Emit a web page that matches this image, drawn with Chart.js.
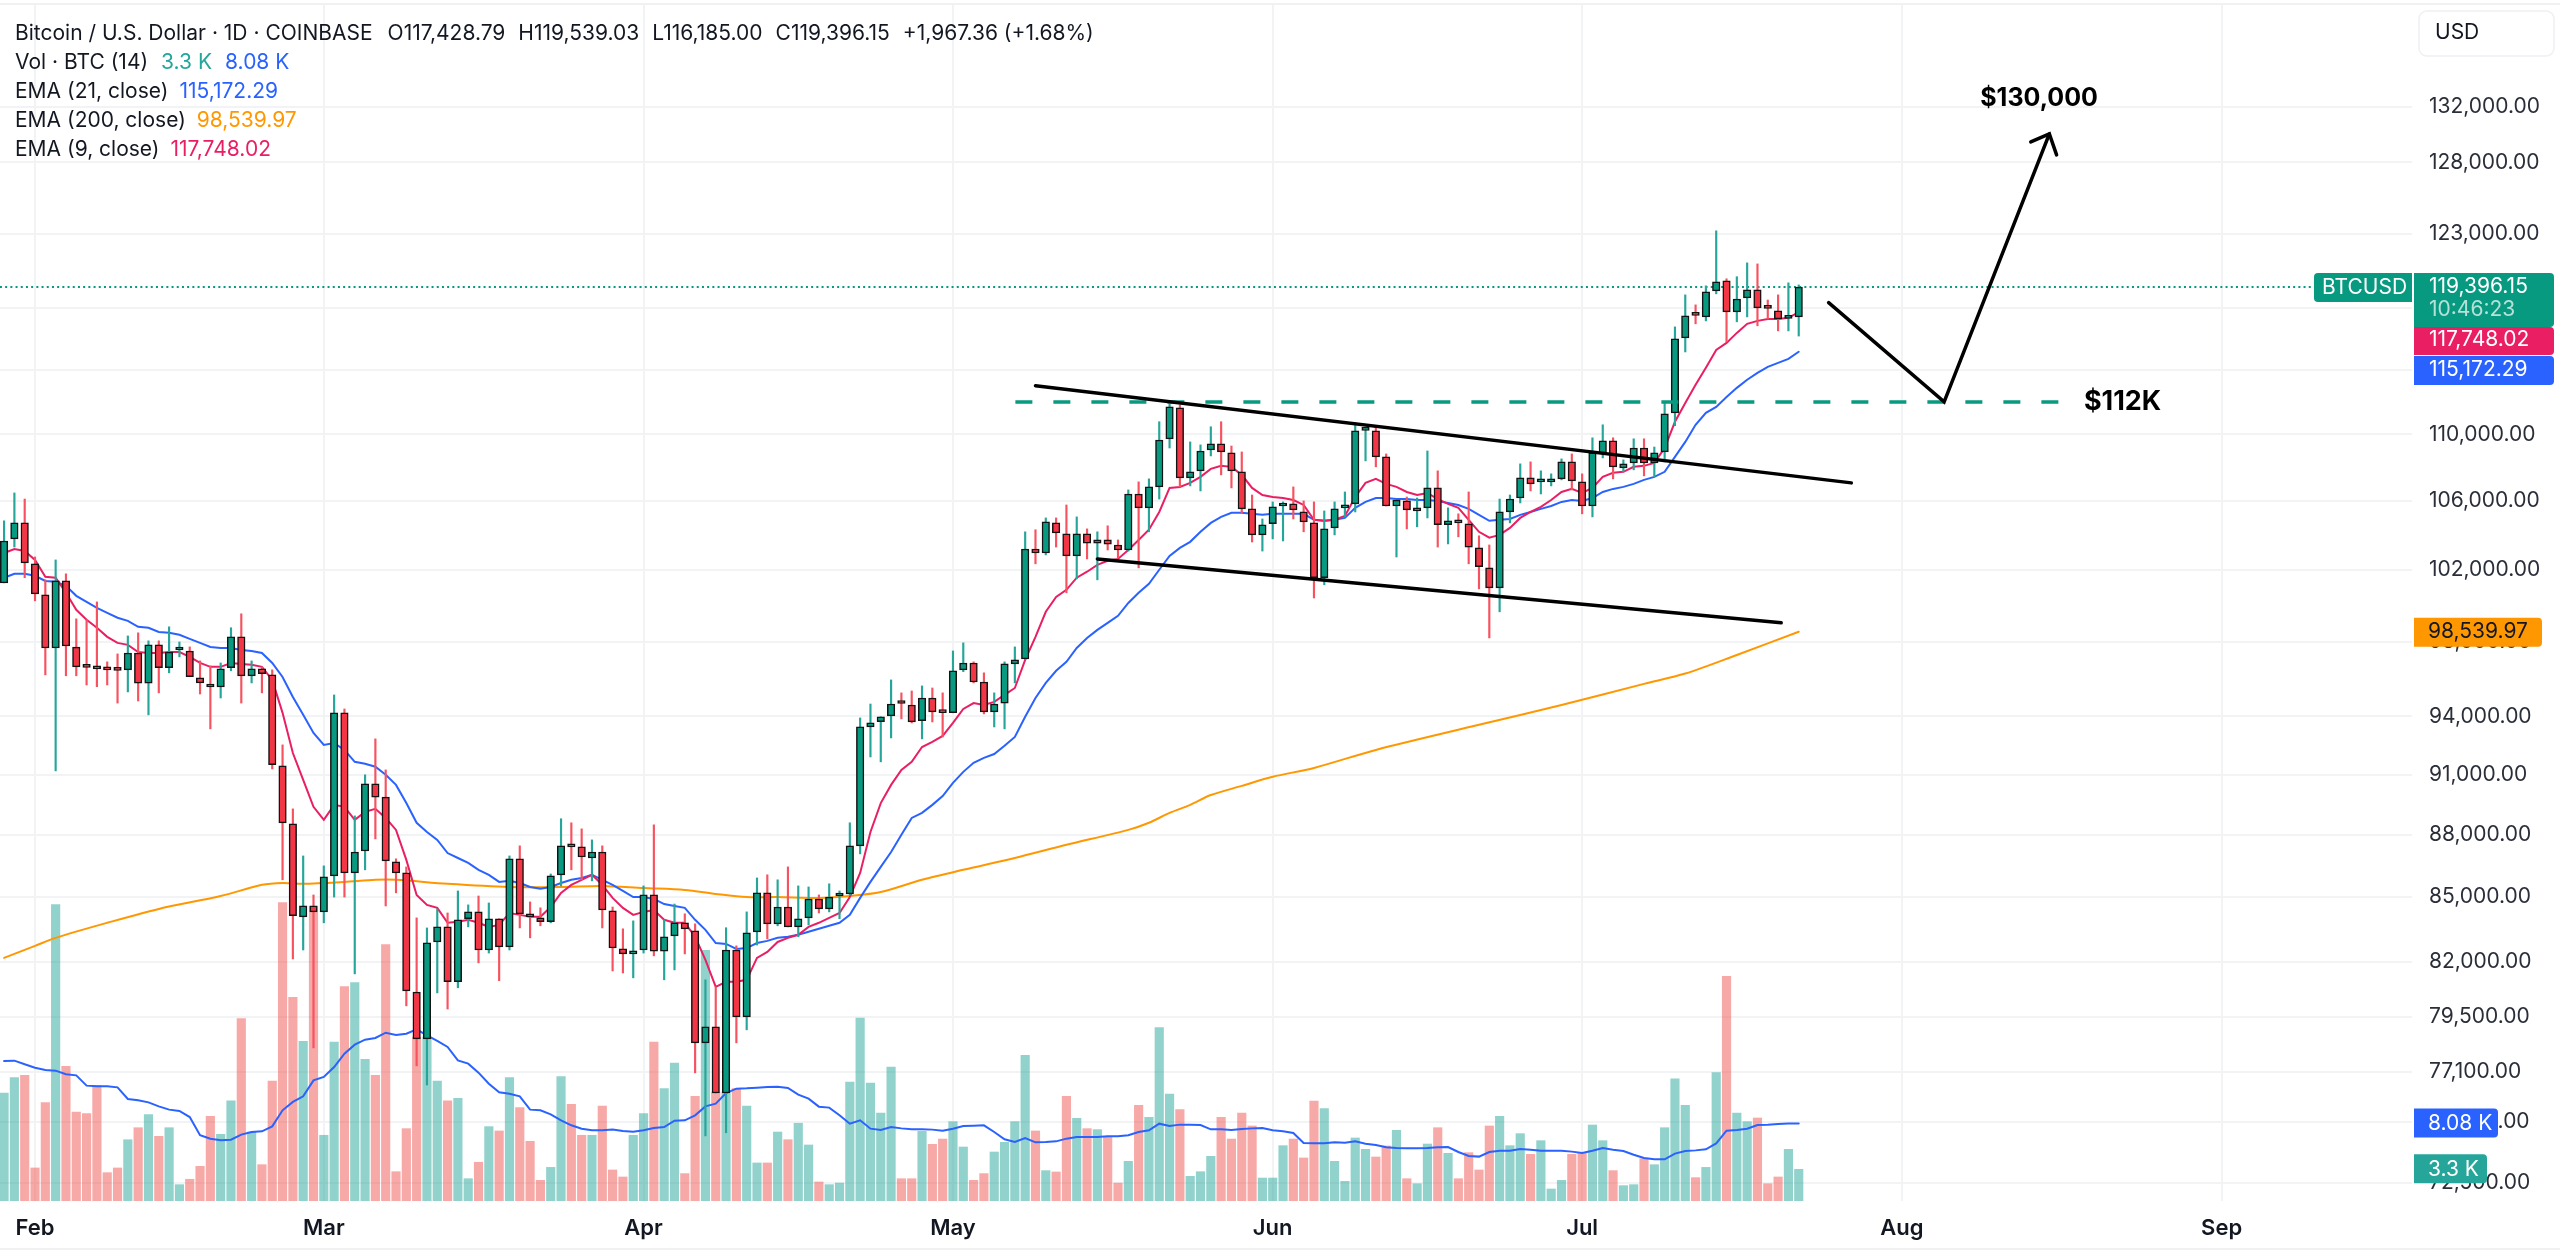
<!DOCTYPE html>
<html>
<head>
<meta charset="utf-8">
<title>BTCUSD</title>
<script src="https://cdn.jsdelivr.net/npm/chart.js@4/dist/chart.umd.min.js"></script>
<style>
  html, body { margin: 0; padding: 0; background: #fff; }
  canvas { display: block; }
</style>
</head>
<body>
<canvas id="btcChart" width="2560" height="1250"></canvas>
<script>
// day number 0 is 1 Feb, first candle is 29 Jan
const firstDay = -3;
const monthTicks = [0, 28, 59, 89, 120, 150, 181, 212];
const monthNames = ['Feb', 'Mar', 'Apr', 'May', 'Jun', 'Jul', 'Aug', 'Sep'];
const priceTicks = [132000, 128000, 123000, 118000, 114000, 110000, 106000, 102000, 98000, 94000, 91000, 88000, 85000, 82000, 79500, 77100, 75000, 72500];

const opens = [101260,103770,104700,102340,100580,97650,101370,97700,96630,96580,96520,96470,96470,97380,95760,97820,96580,97540,97490,96040,95710,95550,96580,98260,96150,96520,96200,91450,88540,84070,84580,84300,86010,94190,86150,87210,90530,89870,86680,86150,80620,78540,82900,83600,81090,83980,84300,82530,83980,82670,86830,84160,84020,83840,86060,87460,87410,86870,87160,84350,82580,82350,82530,85100,82480,83180,83790,83410,78370,79070,76210,82530,79510,83370,85200,83740,84530,83600,84020,84910,84440,85050,85150,87460,93450,93720,94030,94700,94600,93770,94970,94240,94190,96470,96840,95820,94240,94700,96790,97060,103190,102960,104700,104060,102790,104060,103530,103710,103420,103130,106400,105580,106820,109720,111630,107360,107780,109040,109410,108860,107720,105520,104000,104650,105690,105810,105340,104700,101550,104410,105580,105810,110240,110210,108620,105690,105990,105400,105580,106760,104590,104820,104650,103250,102110,100980,105340,106160,107360,107120,107120,107300,108320,107120,105690,108860,109590,107960,108260,109160,108260,108920,111320,116070,117570,117430,119150,119810,117760,118680,119210,118020,117830,117330,117428.79];
const closes = [103650,104700,102390,100640,97650,101370,97760,96630,96600,96520,96470,96440,97380,95760,97820,96580,97430,97600,96100,95770,95550,96520,98260,96150,96520,96260,91500,88590,84120,84580,84300,85960,94190,86150,87160,90530,89870,86730,86150,80670,78540,82860,83600,81090,83930,84300,82530,83980,82670,86830,84210,84070,83840,86010,87460,87410,86920,87160,84390,82620,82350,82480,85100,82480,83140,83790,83510,78370,79070,76210,82530,79510,83320,85200,83740,84530,83600,83980,84910,84440,85000,85100,87460,93450,93660,93980,94650,94680,93710,94970,94240,94200,96420,96840,95820,94240,94650,96790,97010,103190,102960,104760,104120,102790,104060,103530,103710,103470,103130,106400,105580,106820,109650,111690,107360,107720,108980,109410,108920,107780,105520,104000,104590,105640,105810,105460,104760,101550,104350,105520,105750,110210,110270,108620,105690,106040,105460,105520,106760,104590,104820,104700,103300,102170,100980,105340,106100,107360,107000,107180,107300,108320,107180,105690,108860,109590,108020,108200,109160,108260,108860,111260,116000,117500,117530,119080,119750,117760,118610,119210,118020,117990,117300,117370,119396.15];
const highs = [104820,106460,106100,102730,101430,102560,101770,99250,99200,100190,96900,97330,98310,98480,98040,98040,98810,97980,97710,96950,96680,96840,98760,99530,96950,96630,96470,92520,89280,86970,85100,86490,95130,94390,88930,90990,92830,91240,86830,86440,84020,83550,84440,84250,85290,84630,85050,84720,83980,86970,87460,84770,84490,86100,88790,88590,88290,87750,87460,84530,83510,83880,85530,88490,83930,84670,84210,83740,81170,80850,83560,82720,84300,85910,86060,85820,86440,85530,85480,85100,85630,85290,88590,93920,94650,93980,95930,95240,95340,95610,95500,95240,97490,97930,96900,96310,95240,96900,97710,104180,104300,104990,104990,105750,105050,104350,104180,104530,103710,106640,107120,107300,110770,111870,111810,109530,109350,110460,110770,109280,108920,106340,104930,105930,105930,106820,105990,105930,105400,105930,106520,110700,110390,110390,108800,106040,106220,106160,108980,107780,105580,105230,106520,103950,103420,106100,106340,108200,108320,107780,107600,108500,108800,107600,109780,110580,109780,108440,109720,109720,109220,112000,116780,118880,118220,119480,123200,119950,120090,121020,120950,118540,118880,119680,119539.03];
const lows = [101260,103300,101550,100250,96200,91190,96150,96150,95660,95570,95660,94700,95290,94810,94080,95240,96310,97170,96100,95180,93350,94970,96420,94700,95770,95240,91290,85820,82120,82530,78150,83790,85000,85000,81440,86300,87800,84580,85200,80000,77370,76550,80580,79860,80810,83600,81940,82390,81130,82530,83550,83090,83650,83790,85530,86300,85820,85770,83550,81570,81480,81260,82390,82260,81170,81620,82350,77070,74410,76210,74540,78370,78940,82760,83040,83650,83600,83140,83690,84250,84300,83980,85100,87070,91900,91650,92880,93870,93660,92830,93710,92930,94190,96370,95770,94130,93450,93350,95770,97010,102340,102850,103300,100700,101490,102620,101430,103130,102680,103070,102110,104180,106100,109160,106820,106880,106580,108680,107540,106760,105290,103590,103070,103770,103650,104930,104180,100410,101150,104000,105050,105340,108380,108020,105690,102730,104350,104470,104990,103300,103480,103890,102340,100920,98200,99640,104700,105870,106580,106400,106880,107240,106640,105230,105050,108560,107300,107720,107840,107480,107420,108320,110520,115160,116980,117170,118950,115810,117110,117430,116850,117300,116520,116520,116185];

// volume in thousands of BTC
const volumes = [11.24,12.84,13.08,3.44,10.24,30.85,14.02,9.26,9.09,12.01,2.95,3.44,6.38,7.63,8.99,6.73,7.63,1.70,2.26,3.61,8.81,6.94,10.44,18.98,7.18,3.78,12.49,31.06,21.20,16.62,30.67,6.84,16.55,22.31,22.73,14.75,13.08,26.68,3.05,7.53,17.07,17.07,12.49,10.44,10.69,2.32,4.03,7.74,7.29,12.84,9.72,6.21,2.15,3.50,12.94,10.06,6.84,6.84,9.89,3.23,2.50,6.84,9.09,16.55,11.69,14.37,2.85,10.90,26.09,11.35,11.35,11.69,9.89,3.96,3.96,7.18,6.38,8.09,5.83,1.98,1.70,1.87,12.39,19.05,12.28,9.16,13.95,2.32,2.32,7.25,5.90,6.45,8.26,5.62,2.15,2.85,5.10,6.11,8.26,15.16,7.29,3.16,3.02,10.90,8.61,7.53,7.43,6.73,1.87,4.13,9.96,8.71,18.04,11.14,9.51,2.57,3.05,4.65,8.71,6.45,9.16,7.81,2.39,2.39,5.76,6.45,4.48,10.41,9.61,4.13,2.05,6.56,5.38,4.58,5.73,7.36,2.32,1.80,5.93,7.63,4.96,2.32,5.03,3.23,7.81,8.81,5.76,7.01,4.86,6.28,1.25,2.15,4.86,5.00,7.91,6.28,3.16,1.60,1.70,4.41,3.78,7.63,12.73,9.96,2.43,3.50,13.36,23.39,9.16,8.26,8.64,1.80,2.50,5.38,3.30];
const volumeAverage = [14.57,14.61,14.23,13.88,13.64,13.57,13.19,13.08,12.01,11.94,11.94,11.83,10.62,10.48,10.27,9.85,9.51,9.37,8.74,6.84,6.49,6.32,6.38,6.91,7.18,7.25,7.77,9.44,10.31,10.90,12.56,12.91,13.95,15.34,16.27,16.79,16.97,17.52,17.28,17.42,17.87,17.25,16.66,16.03,14.64,14.30,13.36,12.21,11.31,11.17,10.90,9.51,9.44,9.02,8.40,7.88,7.53,7.36,7.36,7.43,7.29,7.22,7.36,7.60,7.70,8.36,8.40,8.92,9.85,10.13,11.24,11.69,11.73,11.80,11.87,11.90,11.76,11.07,10.65,9.82,9.72,8.92,8.05,8.40,7.53,7.39,7.70,7.56,7.46,7.46,7.43,7.32,7.53,7.81,7.84,7.88,7.18,6.42,6.14,6.56,6.11,6.14,6.21,6.49,6.66,6.66,6.66,6.73,6.73,6.84,7.18,7.36,8.05,7.81,7.95,7.95,7.91,7.46,7.46,7.39,7.50,7.56,7.60,7.36,7.25,7.08,6.04,6.00,6.00,6.11,6.07,6.21,5.97,5.83,5.59,5.52,5.48,5.48,5.52,5.59,5.62,5.10,4.68,4.62,5.10,5.24,5.24,5.41,5.34,5.24,5.24,5.24,5.14,5.00,5.24,5.52,5.34,5.21,4.82,4.48,4.34,4.34,4.93,5.21,5.27,5.38,6.00,7.32,7.39,7.53,7.91,7.95,8.02,8.08,8.08];

const ema9 = [102960,103190,103070,102560,101600,101550,100700,99750,99200,98760,98260,97930,97820,97430,97380,97380,97430,97430,97170,96840,96630,96630,96840,96790,96740,96630,95930,94185,92100,90730,89380,88740,89480,89380,88740,89130,89280,88830,88240,86780,85100,84630,84490,83790,83840,83930,83790,83600,83690,84250,84160,84070,84070,84530,85200,85580,85820,86060,85580,84960,84490,84160,84300,84390,83930,83790,83790,83140,82080,80850,81080,81080,81170,82170,82440,82900,83090,83230,83600,83790,84020,84250,85000,86150,88140,89570,90480,91240,91650,92410,92670,92980,93660,94390,94700,94600,94760,95130,95500,97010,98260,99640,100470,100870,101550,101890,102280,102510,102620,103130,103710,104300,105340,106760,106820,107060,107420,107900,108080,108020,107540,106760,106340,106220,106160,106040,105750,104880,104820,104880,105110,106220,107060,107300,107000,106820,106520,106340,106460,106100,105810,105580,104880,104180,103840,104000,104410,104990,105340,105640,106040,106520,106700,106460,106760,107420,107660,107720,108020,108080,108260,109160,110765,111930,113070,114150,115290,115740,116390,116980,117170,117300,117300,117370,117748.02];
const ema21 = [101545,101770,101770,101660,101370,101320,101090,100530,100190,99860,99580,99310,99140,98810,98760,98530,98480,98370,98150,97930,97710,97650,97650,97540,97490,97380,96840,96090,95020,94080,93140,92520,92620,92260,91650,91550,91400,90990,90480,89570,88590,88140,87750,87110,86870,86630,86300,86060,85720,85770,85670,85480,85390,85480,85670,85820,85910,86060,85820,85580,85290,85000,85000,84910,84670,84580,84490,83930,83460,82850,82810,82580,82620,82850,82950,83090,83140,83230,83370,83510,83650,83790,84160,84960,85720,86440,87160,88000,88830,89080,89480,89920,90580,91140,91600,91850,92050,92470,92930,93980,94970,95770,96420,96900,97650,98200,98640,99030,99420,100130,100700,101210,102000,102790,103250,103600,104180,104700,105050,105290,105290,105230,105170,105230,105230,105230,105230,104880,104820,104880,104990,105580,105930,106160,106160,106100,106100,106040,106040,105990,105870,105750,105520,105170,104820,104880,104930,105170,105340,105520,105690,105930,106040,105990,106160,106520,106700,106820,107000,107240,107420,107720,108620,109530,110580,111320,111690,112310,112880,113390,113830,114210,114460,114720,115172.29];
const ema200Days = [-3,0,2,7,12,18,22,24,26,30,33,35,40,46,51,55,59,63,66,69,72,76,79,82,86,90,95,100,106,108,110,112,114,117,120,124,130,140,148,156,160,165,171];
const ema200Values = [82170,82720,83090,83790,84440,85050,85580,85670,85630,85720,85820,85820,85630,85480,85480,85530,85430,85340,85150,85000,85000,84960,85050,85240,85820,86300,86870,87510,88240,88590,89080,89480,89970,90430,90890,91340,92260,93560,94600,95720,96270,97270,98539.97];

// hand drawn lines on the chart, as day number and price
const upperTrendDays = [97, 176.1];
const upperTrendPrices = [113010, 107060];
const lowerTrendDays = [103, 169.3];
const lowerTrendPrices = [102620, 99030];
const resistanceDays = [95.05, 196.5];
const resistancePrices = [112000, 112000];
const arrowDays = [173.9, 185.1, 195.3];
const arrowPrices = [118370, 112000, 130030];
const arrowHeadDays = [193.5, 195.3, 196];
const arrowHeadPrices = [129450, 130030, 128520];
const lastPriceDays = [-3.4, 221];
const lastPrice = 119396.15;

const xMin = -3.395, xMax = 230.46;
const priceMin = 71760, priceMax = 139715;

const TEAL = '#089981', RED = '#f23645';
const pairs = (xs, ys) => xs.map((x, k) => ({x: x, y: ys[k]}));
const dayOf = k => firstDay + k;
const isUp = k => closes[k] >= opens[k];
const fontFamily = 'Inter, "Noto Sans", sans-serif';

function lineSet(label, data, color, width, order, yAxisID) {
    return {type: 'line', label, data, borderColor: color, borderWidth: width, pointRadius: 0,
        tension: 0, fill: false, order, yAxisID: yAxisID || 'y', borderCapStyle: 'round'};
}

const datasets = [
    lineSet('upper', pairs(upperTrendDays, upperTrendPrices), '#000', 3.5, 1),
    lineSet('lower', pairs(lowerTrendDays, lowerTrendPrices), '#000', 3.5, 1),
    lineSet('arrow', pairs(arrowDays, arrowPrices), '#000', 3.5, 1),
    lineSet('arrowHead', pairs(arrowHeadDays, arrowHeadPrices), '#000', 3.5, 1),
    Object.assign(lineSet('resistance', pairs(resistanceDays, resistancePrices), TEAL, 3.5, 2),
        {borderDash: [17, 21], borderCapStyle: 'butt'}),
    {type: 'bar', label: 'body', grouped: false, order: 3, barThickness: 7.5, minBarLength: 3,
        data: opens.map((o, k) => ({x: dayOf(k), y: [o, closes[k]]})),
        backgroundColor: opens.map((o, k) => isUp(k) ? TEAL : RED),
        borderColor: '#131313', borderWidth: 1.5, borderSkipped: false},
    {type: 'bar', label: 'wick', grouped: false, order: 4, barThickness: 1.5,
        data: lows.map((l, k) => ({x: dayOf(k), y: [l, highs[k]]})),
        backgroundColor: opens.map((o, k) => isUp(k) ? '#26a69a' : '#f7525f')},
    lineSet('ema9', pairs(ema9.map((v, k) => dayOf(k)), ema9), '#e91e63', 2, 5),
    lineSet('ema21', pairs(ema21.map((v, k) => dayOf(k)), ema21), '#2962ff', 2, 6),
    Object.assign(lineSet('ema200', pairs(ema200Days, ema200Values), '#ff9800', 2, 7), {tension: 0.3}),
    lineSet('volumeAverage', pairs(volumeAverage.map((v, k) => dayOf(k)), volumeAverage), '#2962ff', 2, 8, 'vol'),
    {type: 'bar', label: 'volume', grouped: false, order: 9, barThickness: 8.5, yAxisID: 'vol',
        data: volumes.map((v, k) => ({x: dayOf(k), y: v})),
        backgroundColor: opens.map((o, k) => isUp(k) ? 'rgba(38,166,154,0.5)' : 'rgba(239,83,80,0.5)')},
    Object.assign(lineSet('last', pairs(lastPriceDays, lastPriceDays.map(() => lastPrice)), TEAL, 2, 10),
        {borderDash: [2, 3.2], borderCapStyle: 'butt'})
];

function roundRect(ctx, x, y, w, h, r, fill, stroke) {
    ctx.beginPath();
    ctx.roundRect(x, y, w, h, r);
    if (fill) { ctx.fillStyle = fill; ctx.fill(); }
    if (stroke) { ctx.strokeStyle = stroke; ctx.lineWidth = 1.5; ctx.stroke(); }
}

function textRow(ctx, x, y, parts) {
    parts.forEach(p => {
        ctx.fillStyle = p[1];
        ctx.fillText(p[0], x, y);
        x += ctx.measureText(p[0]).width + (p[2] || 11);
    });
}

const overlayPlugin = {
    id: 'overlay',
    afterDraw(chart) {
        const ctx = chart.ctx, xs = chart.scales.x, ys = chart.scales.y, vs = chart.scales.vol;
        ctx.save();

        // frame lines of the widget
        ctx.strokeStyle = '#f0f1f3';
        ctx.lineWidth = 2;
        ctx.beginPath();
        ctx.moveTo(0, 4); ctx.lineTo(2560, 4);
        ctx.moveTo(0, 1249); ctx.lineTo(2560, 1249);
        ctx.stroke();

        // header
        const dark = '#131722';
        ctx.textBaseline = 'middle';
        ctx.textAlign = 'left';
        ctx.font = '21px ' + fontFamily;
        textRow(ctx, 15, 34, [
            ['Bitcoin / U.S. Dollar · 1D · COINBASE', dark, 15], ['O117,428.79', dark, 13], ['H119,539.03', dark, 13],
            ['L116,185.00', dark, 13], ['C119,396.15', dark, 13], ['+1,967.36 (+1.68%)', dark]]);
        textRow(ctx, 15, 63, [['Vol · BTC (14)', dark, 13], ['3.3 K', '#26a69a', 13], ['8.08 K', '#2962ff']]);
        textRow(ctx, 15, 92, [['EMA (21, close)', dark], ['115,172.29', '#2962ff']]);
        textRow(ctx, 15, 121, [['EMA (200, close)', dark], ['98,539.97', '#ff9800']]);
        textRow(ctx, 15, 150, [['EMA (9, close)', dark], ['117,748.02', '#e91e63']]);

        // text labels on the drawing
        ctx.fillStyle = '#000';
        ctx.textAlign = 'center';
        ctx.font = 'bold 25px ' + fontFamily;
        ctx.fillText('$130,000', xs.getPixelForValue(194.3), ys.getPixelForValue(132000) - 8);
        ctx.font = 'bold 27px ' + fontFamily;
        ctx.fillText('$112K', xs.getPixelForValue(202.4), ys.getPixelForValue(112000));

        // price axis tags
        ctx.textAlign = 'left';
        ctx.font = '21px ' + fontFamily;
        roundRect(ctx, 2419, 11, 135, 45, 8, '#fff', '#eef0f3');
        ctx.fillStyle = dark;
        ctx.fillText('USD', 2435, 33);

        const lastY = ys.getPixelForValue(lastPrice);
        roundRect(ctx, 2314, lastY - 14, 98, 29, [4, 0, 0, 4], TEAL);
        ctx.fillStyle = '#fff';
        ctx.fillText('BTCUSD', 2322, lastY + 1);
        roundRect(ctx, 2414, lastY - 14, 140, 54, [0, 4, 4, 0], TEAL);
        ctx.fillStyle = '#fff';
        ctx.fillText('119,396.15', 2429, lastY);
        ctx.fillStyle = 'rgba(255,255,255,0.7)';
        ctx.fillText('10:46:23', 2429, lastY + 23);

        roundRect(ctx, 2414, lastY + 40, 140, 28, [0, 4, 4, 0], '#e91e63');
        ctx.fillStyle = '#fff';
        ctx.fillText('117,748.02', 2429, lastY + 53);
        roundRect(ctx, 2414, lastY + 69, 140, 29, [0, 4, 4, 0], '#2962ff');
        ctx.fillStyle = '#fff';
        ctx.fillText('115,172.29', 2429, lastY + 83);

        const emaY = ys.getPixelForValue(98539.97);
        roundRect(ctx, 2414, emaY - 14, 128, 29, [0, 4, 4, 0], '#ff9800');
        ctx.fillStyle = dark;
        ctx.fillText('98,539.97', 2428, emaY);

        const avgY = vs.getPixelForValue(8.08);
        roundRect(ctx, 2414, avgY - 15, 84, 29, [0, 4, 4, 0], '#2962ff');
        ctx.fillStyle = '#fff';
        ctx.fillText('8.08 K', 2428, avgY);
        const volY = vs.getPixelForValue(3.3);
        roundRect(ctx, 2414, volY - 15, 73, 29, [0, 4, 4, 0], '#26a69a');
        ctx.fillStyle = '#fff';
        ctx.fillText('3.3 K', 2428, volY);
        ctx.restore();
    }
};

new Chart(document.getElementById('btcChart'), {
    type: 'bar',
    data: {datasets},
    options: {
        responsive: false,
        animation: false,
        devicePixelRatio: 1,
        layout: {padding: {top: 5, left: 0, right: 0, bottom: 0}},
        plugins: {legend: {display: false}, tooltip: {enabled: false}},
        scales: {
            x: {
                type: 'linear', min: xMin, max: xMax, offset: false,
                grid: {color: '#f2f3f5', lineWidth: 2, drawTicks: false, offset: false},
                border: {display: false},
                afterBuildTicks: s => { s.ticks = monthTicks.map(v => ({value: v})); },
                afterFit: s => { s.height = 49; s.paddingLeft = 0; s.paddingRight = 0; },
                ticks: {
                    autoSkip: false, maxRotation: 0, padding: 14, color: '#131722',
                    font: {family: fontFamily, size: 22, weight: '600'},
                    callback: v => monthNames[monthTicks.indexOf(v)]
                }
            },
            y: {
                type: 'logarithmic', position: 'right', min: priceMin, max: priceMax,
                grid: {color: '#f2f3f5', lineWidth: 2, drawTicks: false},
                border: {display: false},
                afterBuildTicks: s => { s.ticks = priceTicks.map(v => ({value: v})); },
                afterFit: s => { s.width = 148; s.paddingTop = 0; s.paddingBottom = 0; },
                ticks: {
                    autoSkip: false, padding: 17, color: '#2a2e39',
                    font: {family: fontFamily, size: 21},
                    callback: v => v.toLocaleString('en-US', {minimumFractionDigits: 2, maximumFractionDigits: 2})
                }
            },
            vol: {type: 'linear', display: false, min: 0, max: 124.5}
        }
    },
    plugins: [overlayPlugin]
});
</script>
</body>
</html>
